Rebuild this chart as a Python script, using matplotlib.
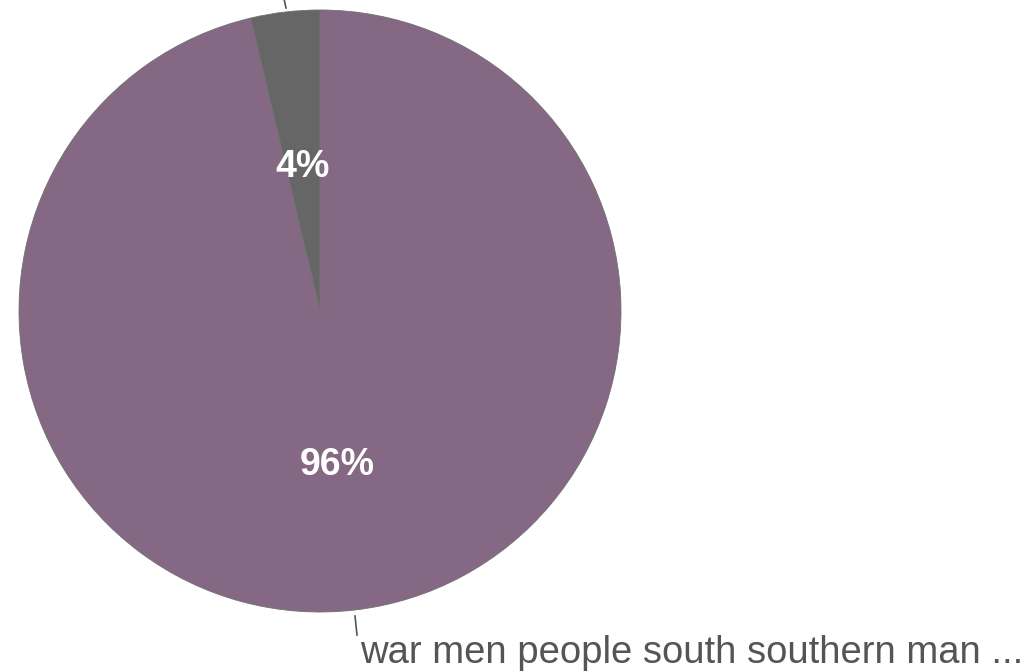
import matplotlib
matplotlib.use("Agg")
import matplotlib.pyplot as plt

# slice shares (gray slice ~13 degrees)
labels = ["", "war men people south southern man ..."]
shares = [3.7, 96.3]
colors = ["#666666", "#856883"]

W, H = 1036, 671
fig = plt.figure(figsize=(W / 100, H / 100), dpi=100)
ax = fig.add_axes([0, 0, 1, 1])

cx, cy, r = 320, 311, 301

# y axis is flipped to pixel coords, so angles are mirrored:
# start at -90 and go clockwise to get the slice left of 12 o'clock
wedges, texts, autotexts = ax.pie(
    shares,
    colors=colors,
    center=(cx, cy),
    radius=r,
    startangle=-90,
    counterclock=False,
    autopct="%.0f%%",
    pctdistance=0.5,
    wedgeprops=dict(edgecolor="#707070", linewidth=0.6),
    textprops=dict(family="Liberation Sans"),
    frame=True,
)
ax.set_xlim(0, W)
ax.set_ylim(H, 0)
ax.set_aspect("equal")
ax.axis("off")

for t in autotexts:
    t.set_color("white")
    t.set_fontsize(27)
    t.set_fontweight("bold")
    x, y = t.get_position()
    t.set_position((x, y + 5))

# leader lines and outside labels
ax.plot([283, 286], [-6, 8], color="#555555", lw=1.2)
ax.plot([355, 357], [616, 635], color="#555555", lw=1.2)
ax.text(360, 663, labels[1], fontsize=27.5, color="#555555",
        family="Liberation Sans", ha="left", va="baseline")

fig.savefig("out.png", dpi=100)
